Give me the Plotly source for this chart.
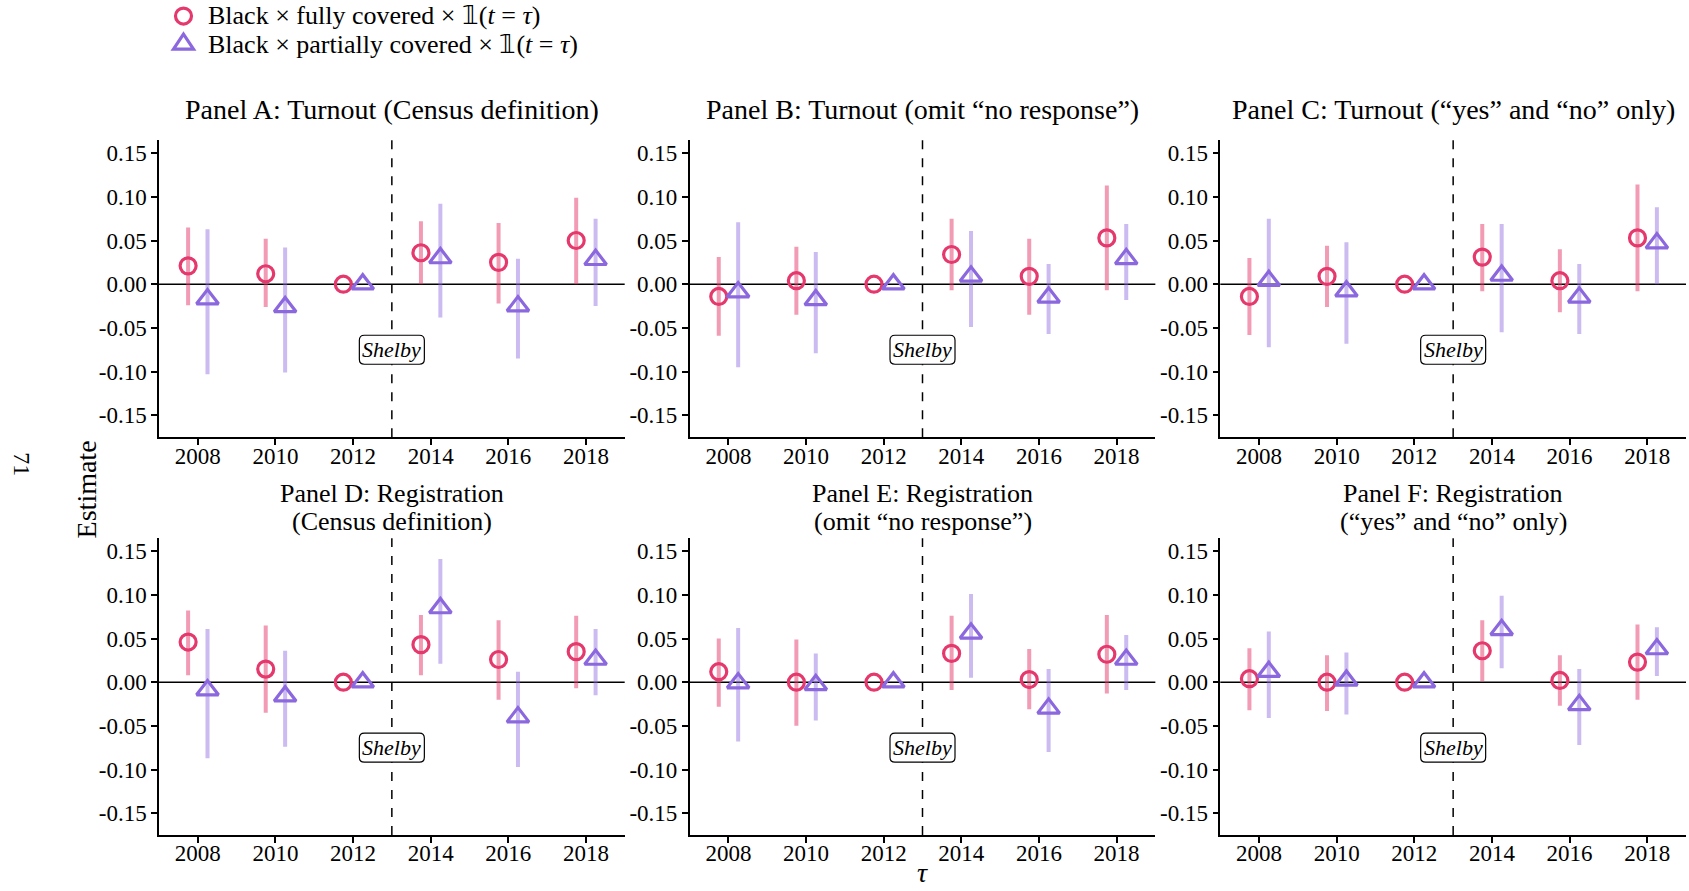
import plotly.graph_objects as go

years = [2008, 2010, 2012, 2014, 2016, 2018]
panel_titles = [
    ["Panel A: Turnout (Census definition)"],
    ["Panel B: Turnout (omit “no response”)"],
    ["Panel C: Turnout (“yes” and “no” only)"],
    ["Panel D: Registration", "(Census definition)"],
    ["Panel E: Registration", "(omit “no response”)"],
    ["Panel F: Registration", "(“yes” and “no” only)"],
]

# fully covered: estimate, lower CI, upper CI
full_est = [
    [0.021, 0.012, 0.0, 0.036, 0.025, 0.050],
    [-0.014, 0.004, 0.0, 0.034, 0.009, 0.053],
    [-0.014, 0.009, 0.0, 0.031, 0.004, 0.053],
    [0.046, 0.015, 0.0, 0.043, 0.026, 0.035],
    [0.012, 0.000, 0.0, 0.033, 0.003, 0.032],
    [0.004, 0.000, 0.0, 0.036, 0.002, 0.023],
]
full_lo = [
    [-0.024, -0.026, 0.0, 0.000, -0.022, 0.000],
    [-0.059, -0.035, 0.0, -0.007, -0.035, -0.007],
    [-0.058, -0.026, 0.0, -0.008, -0.032, -0.008],
    [0.008, -0.035, 0.0, 0.008, -0.020, -0.007],
    [-0.028, -0.050, 0.0, -0.009, -0.031, -0.013],
    [-0.032, -0.033, 0.0, 0.001, -0.027, -0.020],
]
full_hi = [
    [0.065, 0.052, 0.0, 0.072, 0.070, 0.099],
    [0.031, 0.043, 0.0, 0.075, 0.052, 0.113],
    [0.030, 0.044, 0.0, 0.069, 0.040, 0.114],
    [0.082, 0.065, 0.0, 0.077, 0.071, 0.076],
    [0.050, 0.049, 0.0, 0.076, 0.038, 0.077],
    [0.039, 0.031, 0.0, 0.071, 0.031, 0.066],
]
# partially covered
part_est = [
    [-0.017, -0.026, 0.0, 0.030, -0.025, 0.028],
    [-0.009, -0.018, 0.0, 0.009, -0.015, 0.029],
    [0.004, -0.008, 0.0, 0.010, -0.015, 0.047],
    [-0.009, -0.016, 0.0, 0.085, -0.040, 0.026],
    [-0.001, -0.003, 0.0, 0.056, -0.030, 0.026],
    [0.012, 0.002, 0.0, 0.060, -0.026, 0.038],
]
part_lo = [
    [-0.103, -0.101, 0.0, -0.038, -0.085, -0.025],
    [-0.095, -0.079, 0.0, -0.049, -0.057, -0.018],
    [-0.072, -0.068, 0.0, -0.055, -0.057, 0.000],
    [-0.087, -0.074, 0.0, 0.021, -0.097, -0.015],
    [-0.068, -0.044, 0.0, 0.005, -0.080, -0.009],
    [-0.041, -0.037, 0.0, 0.016, -0.072, 0.007],
]
part_hi = [
    [0.063, 0.042, 0.0, 0.092, 0.029, 0.075],
    [0.071, 0.037, 0.0, 0.061, 0.023, 0.069],
    [0.075, 0.048, 0.0, 0.069, 0.023, 0.088],
    [0.061, 0.036, 0.0, 0.141, 0.012, 0.061],
    [0.062, 0.033, 0.0, 0.101, 0.015, 0.054],
    [0.058, 0.034, 0.0, 0.099, 0.015, 0.063],
]
ytick_vals = [-0.15, -0.10, -0.05, 0.0, 0.05, 0.10, 0.15]
ytick_text = ["-0.15", "-0.10", "-0.05", "0.00", "0.05", "0.10", "0.15"]
legend_names = [
    "Black × fully covered × 𝟙(<i>t</i> = <i>τ</i>)",
    "Black × partially covered × 𝟙(<i>t</i> = <i>τ</i>)",
]
shelby_year = 2013
shelby_label_y = -0.075
offset = 0.25

PINK = "#E5386C"
PINK_ERR = "rgba(229,56,108,0.5)"
PURP = "#8C68DE"
PURP_ERR = "rgba(140,104,222,0.45)"
FONT = "Liberation Serif"

W, H = 1689, 891
col_px = [(158.5, 624.5), (689.5, 1155.5), (1220.5, 1686.5)]
row_px = [(140, 437.3), (538.3, 835.3)]
ML, MR, MT, MB = col_px[0][0], W - col_px[2][1], row_px[0][0], H - row_px[1][1]
PW, PH = W - ML - MR, H - MT - MB


def px_x(p):
    return (p - ML) / PW


def px_y(p):
    return (H - MB - p) / PH


def rounded_rect(hw, hh, rr):
    return (f"M {-hw + rr},{-hh} L {hw - rr},{-hh} Q {hw},{-hh} {hw},{-hh + rr} "
            f"L {hw},{hh - rr} Q {hw},{hh} {hw - rr},{hh} L {-hw + rr},{hh} "
            f"Q {-hw},{hh} {-hw},{hh - rr} L {-hw},{-hh + rr} Q {-hw},{-hh} {-hw + rr},{-hh} Z")


fig = go.Figure()
layout = {}
annotations = []
shapes = []

for i in range(6):
    r, c = divmod(i, 3)
    n = i + 1
    xa = "x" if n == 1 else f"x{n}"
    ya = "y" if n == 1 else f"y{n}"
    xd = [px_x(col_px[c][0]), px_x(col_px[c][1])]
    yd = [px_y(row_px[r][1]), px_y(row_px[r][0])]
    common = dict(
        showline=True, linecolor="black", linewidth=1.5, ticks="outside",
        tickcolor="black", ticklen=6, tickwidth=1.5, showgrid=False, zeroline=False,
        tickfont=dict(family=FONT, size=23, color="black"), automargin=False,
    )
    layout["xaxis" if n == 1 else f"xaxis{n}"] = dict(
        domain=xd, anchor=ya, range=[2007, 2019], tickvals=years,
        ticktext=[str(y) for y in years], ticklabelstandoff=-9, **common)
    layout["yaxis" if n == 1 else f"yaxis{n}"] = dict(
        domain=yd, anchor=xa, range=[-0.175, 0.165], tickvals=ytick_vals,
        ticktext=ytick_text, **common)

    # zero line and Shelby line
    shapes.append(dict(type="line", xref=f"{xa} domain", yref=ya, x0=0, x1=1, y0=0, y1=0,
                       line=dict(color="black", width=1.5), layer="below"))
    shapes.append(dict(type="line", xref=xa, yref=f"{ya} domain", x0=shelby_year, x1=shelby_year,
                       y0=0, y1=1, line=dict(color="black", width=1.5, dash="dash"), layer="below"))
    shapes.append(dict(type="path", xref=xa, yref=ya, xsizemode="pixel", ysizemode="pixel",
                       xanchor=shelby_year, yanchor=shelby_label_y, path=rounded_rect(32.5, 14.5, 5),
                       fillcolor="white", line=dict(color="black", width=1.2), layer="above"))
    annotations.append(dict(xref=xa, yref=ya, x=shelby_year, y=shelby_label_y, text="<i>Shelby</i>",
                            xanchor="center", yanchor="middle",
                            showarrow=False, font=dict(family=FONT, size=22, color="black")))

    fx = [y - offset for y in years]
    px_ = [y + offset for y in years]
    fig.add_trace(go.Scatter(
        x=fx, y=full_est[i], mode="markers", xaxis=xa, yaxis=ya,
        name=legend_names[0], showlegend=False,
        marker=dict(symbol="circle-open", size=16, color=PINK, line=dict(width=3.2, color=PINK)),
        error_y=dict(type="data", symmetric=False,
                     array=[h - e for h, e in zip(full_hi[i], full_est[i])],
                     arrayminus=[e - l for e, l in zip(full_est[i], full_lo[i])],
                     thickness=4, width=0, color=PINK_ERR),
    ))
    fig.add_trace(go.Scatter(
        x=px_, y=part_est[i], mode="markers", xaxis=xa, yaxis=ya,
        name=legend_names[1], showlegend=False,
        marker=dict(symbol="triangle-up-open", size=19, color=PURP, line=dict(width=3.2, color=PURP)),
        error_y=dict(type="data", symmetric=False,
                     array=[h - e for h, e in zip(part_hi[i], part_est[i])],
                     arrayminus=[e - l for e, l in zip(part_est[i], part_lo[i])],
                     thickness=4, width=0, color=PURP_ERR),
    ))

    # panel title
    cx = (col_px[c][0] + col_px[c][1]) / 2
    if r == 0:
        ys, fs = [109], 28
    else:
        ys, fs = [494, 522], 26
    for line_text, yy in zip(panel_titles[i], ys):
        annotations.append(dict(xref="paper", yref="paper", x=px_x(cx), y=px_y(yy),
                                text=line_text, showarrow=False, xanchor="center", yanchor="middle",
                                font=dict(family=FONT, size=fs, color="black")))

# legend (manual)
leg_y = [15, 44]
shapes.append(dict(type="circle", xref="paper", yref="paper", xsizemode="pixel", ysizemode="pixel",
                   xanchor=px_x(183), yanchor=px_y(leg_y[0] + 1), x0=-8, x1=8, y0=-8, y1=8,
                   line=dict(color=PINK, width=3.2)))
shapes.append(dict(type="path", xref="paper", yref="paper", xsizemode="pixel", ysizemode="pixel",
                   xanchor=px_x(183), yanchor=px_y(leg_y[1] - 1), path="M -10,-6 L 10,-6 L 0,9 Z",
                   line=dict(color=PURP, width=3.2)))
for name, yy in zip(legend_names, leg_y):
    annotations.append(dict(xref="paper", yref="paper", x=px_x(206), y=px_y(yy), xanchor="left",
                            yanchor="middle", text=name, showarrow=False,
                            font=dict(family=FONT, size=26, color="black")))

annotations.append(dict(xref="paper", yref="paper", x=px_x(86), y=px_y(490), text="Estimate",
                        textangle=-90, showarrow=False, xanchor="center", yanchor="middle",
                        font=dict(family=FONT, size=28, color="black")))
annotations.append(dict(xref="paper", yref="paper", x=px_x(923), y=px_y(890), text="<i>τ</i>",
                        showarrow=False, xanchor="center", yanchor="bottom",
                        font=dict(family=FONT, size=28, color="black")))
annotations.append(dict(xref="paper", yref="paper", x=px_x(22), y=px_y(464), text="71",
                        textangle=90, showarrow=False, xanchor="center", yanchor="middle",
                        font=dict(family=FONT, size=24, color="black")))

fig.update_layout(
    width=W, height=H, margin=dict(l=ML, r=MR, t=MT, b=MB, autoexpand=False),
    plot_bgcolor="white", paper_bgcolor="white", showlegend=False,
    annotations=annotations, shapes=shapes,
    **layout,
)

fig.write_html("out.html", config={"displayModeBar": False},
               post_script="document.body.style.margin='0px';")
